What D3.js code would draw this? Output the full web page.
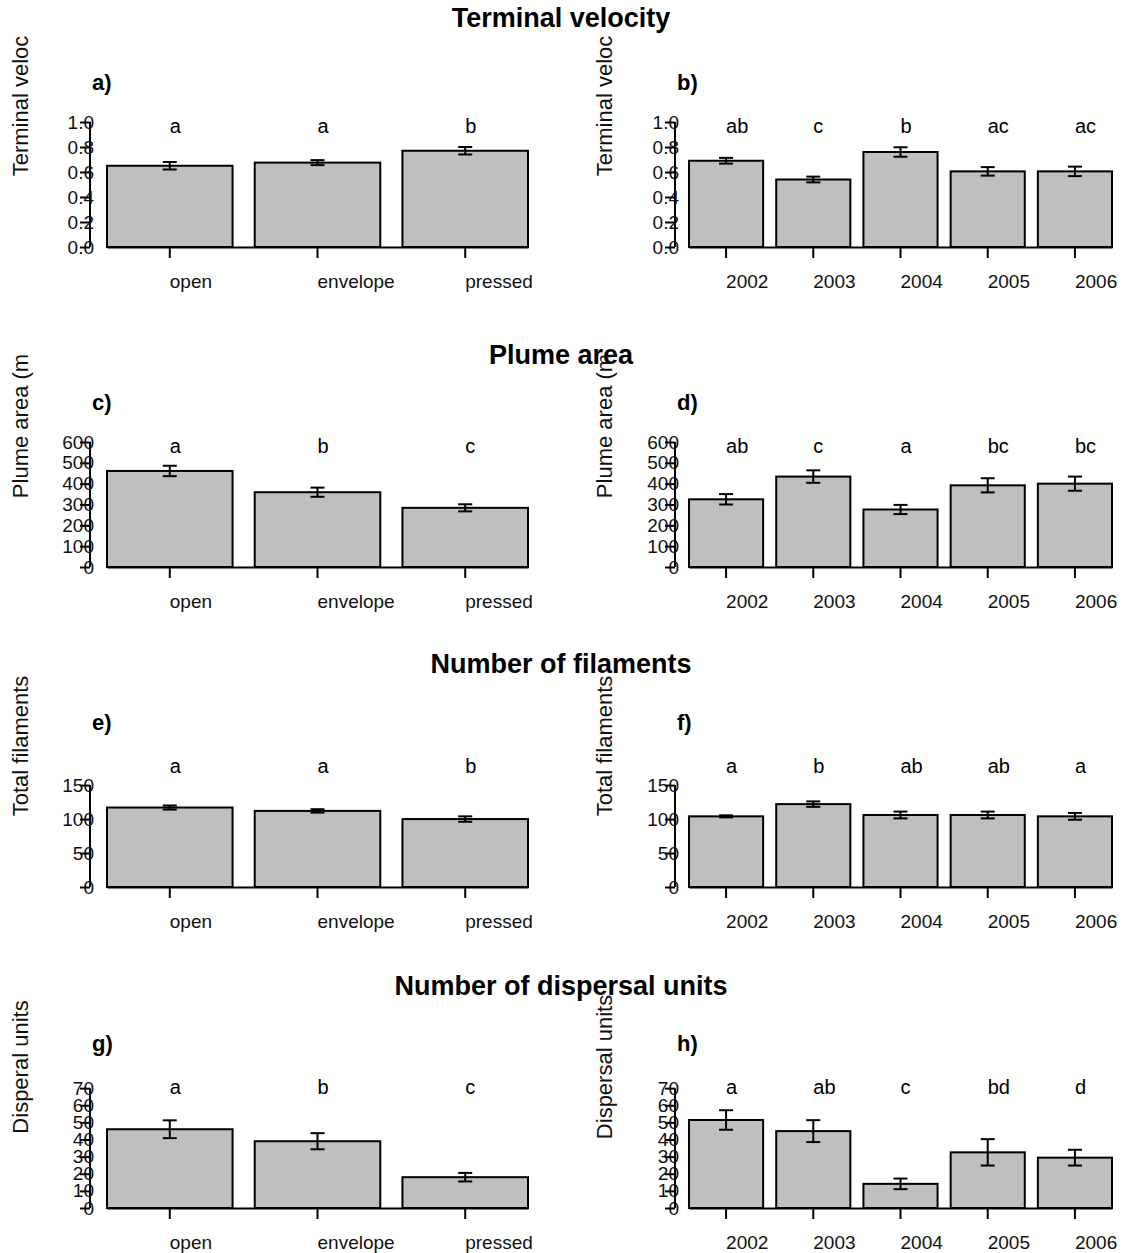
<!DOCTYPE html>
<html>
<head>
<meta charset="utf-8">
<script src="https://cdn.jsdelivr.net/npm/d3@7"></script>
<style>
  body { margin: 0; background: #fff; }
  svg { font-family: "Liberation Sans", Arial, sans-serif; }
</style>
</head>
<body>
<div class="chart"></div>
<script>
// categories
const treatments = ['open', 'envelope', 'pressed']
const years = ['2002', '2003', '2004', '2005', '2006']

// terminal velocity
const velocityTreatMean = [0.65, 0.675, 0.77]
const velocityTreatSE = [0.03, 0.02, 0.03]
const velocityTreatLetters = ['a', 'a', 'b']
const velocityYearMean = [0.69, 0.54, 0.76, 0.605, 0.605]
const velocityYearSE = [0.023, 0.023, 0.038, 0.034, 0.038]
const velocityYearLetters = ['ab', 'c', 'b', 'ac', 'ac']

// plume area
const plumeTreatMean = [461, 359, 284]
const plumeTreatSE = [25, 22, 17]
const plumeTreatLetters = ['a', 'b', 'c']
const plumeYearMean = [325, 434, 276, 392, 400]
const plumeYearSE = [25, 30, 22, 34, 34]
const plumeYearLetters = ['ab', 'c', 'a', 'bc', 'bc']

// number of filaments
const filamentTreatMean = [117, 112, 100]
const filamentTreatSE = [3, 2.5, 4]
const filamentTreatLetters = ['a', 'a', 'b']
const filamentYearMean = [104, 122, 106, 106, 104]
const filamentYearSE = [1.5, 4, 5, 5, 5]
const filamentYearLetters = ['a', 'b', 'ab', 'ab', 'a']

// number of dispersal units
const dispersalTreatMean = [46, 39, 18]
const dispersalTreatSE = [5.2, 4.7, 2.5]
const dispersalTreatLetters = ['a', 'b', 'c']
const dispersalYearMean = [51.4, 44.9, 14.1, 32.5, 29.4]
const dispersalYearSE = [5.7, 6.4, 3.1, 7.7, 4.6]
const dispersalYearLetters = ['a', 'ab', 'c', 'bd', 'd']

// axes
const rowTitles = ['Terminal velocity', 'Plume area', 'Number of filaments', 'Number of dispersal units']
const yLabelsLeft = ['Terminal veloc', 'Plume area (m', 'Total filaments', 'Disperal units']
const yLabelsRight = ['Terminal veloc', 'Plume area (m', 'Total filaments', 'Dispersal units']
const yTicks = [
    [0, 0.2, 0.4, 0.6, 0.8, 1.0],
    [0, 100, 200, 300, 400, 500, 600],
    [0, 50, 100, 150],
    [0, 10, 20, 30, 40, 50, 60, 70]
]
const yMax = [1.0, 600, 184, 73]
const yFormats = ['.1f', 'd', 'd', 'd']
const panelTags = [['a)', 'b)'], ['c)', 'd)'], ['e)', 'f)'], ['g)', 'h)']]

const rowsData = [
    [[velocityTreatMean, velocityTreatSE, velocityTreatLetters], [velocityYearMean, velocityYearSE, velocityYearLetters]],
    [[plumeTreatMean, plumeTreatSE, plumeTreatLetters], [plumeYearMean, plumeYearSE, plumeYearLetters]],
    [[filamentTreatMean, filamentTreatSE, filamentTreatLetters], [filamentYearMean, filamentYearSE, filamentYearLetters]],
    [[dispersalTreatMean, dispersalTreatSE, dispersalTreatLetters], [dispersalYearMean, dispersalYearSE, dispersalYearLetters]]
]

function drawFigure() {
    const dimensions = {
        width: 1123,
        height: 1253,
        plotHeight: 125,
        rowBase: [247, 567, 887, 1208],
        titleY: [27, 364, 673, 995],
        panels: [
            { axisX: 90, x0: 107, x1: 528, labelX: 28, cats: treatments },
            { axisX: 675, x0: 689, x1: 1112, labelX: 612, cats: years }
        ]
    }

    const svg = d3.select('.chart')
        .append('svg')
        .attr('width', dimensions.width)
        .attr('height', dimensions.height)

    rowsData.forEach((row, r) => {
        const base = dimensions.rowBase[r]

        svg.append('text')
            .attr('x', 561)
            .attr('y', dimensions.titleY[r])
            .attr('text-anchor', 'middle')
            .attr('font-size', 27)
            .attr('font-weight', 'bold')
            .text(rowTitles[r])

        row.forEach(([means, ses, letters], p) => {
            const panel = dimensions.panels[p]
            const cats = panel.cats

            const x = d3.scaleBand()
                .domain(cats)
                .range([panel.x0, panel.x1])
                .paddingInner(0.15)
                .paddingOuter(0)

            const y = d3.scaleLinear()
                .domain([0, yMax[r]])
                .range([base, base - dimensions.plotHeight])

            const g = svg.append('g')
            const cx = (i) => x(cats[i]) + x.bandwidth() / 2

            // y label (rotated)
            svg.append('text')
                .attr('transform', `translate(${panel.labelX}, ${base - 141}) rotate(-90)`)
                .attr('text-anchor', 'middle')
                .attr('font-size', 22)
                .attr('fill', '#111')
                .text(p === 0 ? yLabelsLeft[r] : yLabelsRight[r])

            // panel tag
            svg.append('text')
                .attr('x', panel.axisX + 2)
                .attr('y', base - 157)
                .attr('font-size', 22)
                .attr('font-weight', 'bold')
                .text(panelTags[r][p])

            // bars
            g.selectAll('rect')
                .data(means)
                .join('rect')
                .attr('x', (d, i) => x(cats[i]))
                .attr('y', (d) => y(d))
                .attr('width', x.bandwidth())
                .attr('height', (d) => y(0) - y(d))
                .attr('fill', '#bfbfbf')
                .attr('stroke', '#000')
                .attr('stroke-width', 2)

            // error bars
            const capHalf = 7
            const err = g.selectAll('.err')
                .data(means)
                .join('g')
                .attr('class', 'err')
                .attr('stroke', '#000')
                .attr('stroke-width', 2)
            err.append('line')
                .attr('x1', (d, i) => cx(i)).attr('x2', (d, i) => cx(i))
                .attr('y1', (d, i) => y(d - ses[i])).attr('y2', (d, i) => y(d + ses[i]))
            err.append('line')
                .attr('x1', (d, i) => cx(i) - capHalf).attr('x2', (d, i) => cx(i) + capHalf)
                .attr('y1', (d, i) => y(d + ses[i])).attr('y2', (d, i) => y(d + ses[i]))
            err.append('line')
                .attr('x1', (d, i) => cx(i) - capHalf).attr('x2', (d, i) => cx(i) + capHalf)
                .attr('y1', (d, i) => y(d - ses[i])).attr('y2', (d, i) => y(d - ses[i]))

            // significance letters, left-aligned at bar centre
            g.selectAll('.sig')
                .data(letters)
                .join('text')
                .attr('class', 'sig')
                .attr('x', (d, i) => cx(i))
                .attr('y', y(yMax[r]) + 11)
                .attr('font-size', 20)
                .text((d) => d)

            // x axis
            const xAxis = svg.append('g')
                .attr('transform', `translate(0, ${base})`)
                .call(d3.axisBottom(x).tickSize(11).tickSizeOuter(0))
            xAxis.select('.domain').attr('stroke-width', 2)
            xAxis.selectAll('.tick line').attr('stroke-width', 2)
            xAxis.selectAll('.tick text')
                .attr('text-anchor', 'start')
                .attr('y', 41)
                .attr('dy', null)
                .attr('font-size', 19)
                .attr('font-family', null)
                .attr('fill', '#111')

            // y axis, labels overlapping the axis line as in the original
            const ticks = yTicks[r]
            const yAxis = svg.append('g')
                .attr('transform', `translate(${panel.axisX}, 0)`)
                .call(d3.axisLeft(y)
                    .tickValues(ticks)
                    .tickFormat(d3.format(yFormats[r]))
                    .tickSize(10)
                    .tickPadding(-14))
            yAxis.select('.domain')
                .attr('d', `M0,${y(0)}V${y(ticks[ticks.length - 1])}`)
                .attr('stroke-width', 2)
            yAxis.selectAll('.tick line').attr('stroke-width', 2)
            yAxis.selectAll('.tick text')
                .attr('font-size', 19)
                .attr('font-family', null)
                .attr('fill', '#111')
        })
    })
}

drawFigure()
</script>
</body>
</html>
